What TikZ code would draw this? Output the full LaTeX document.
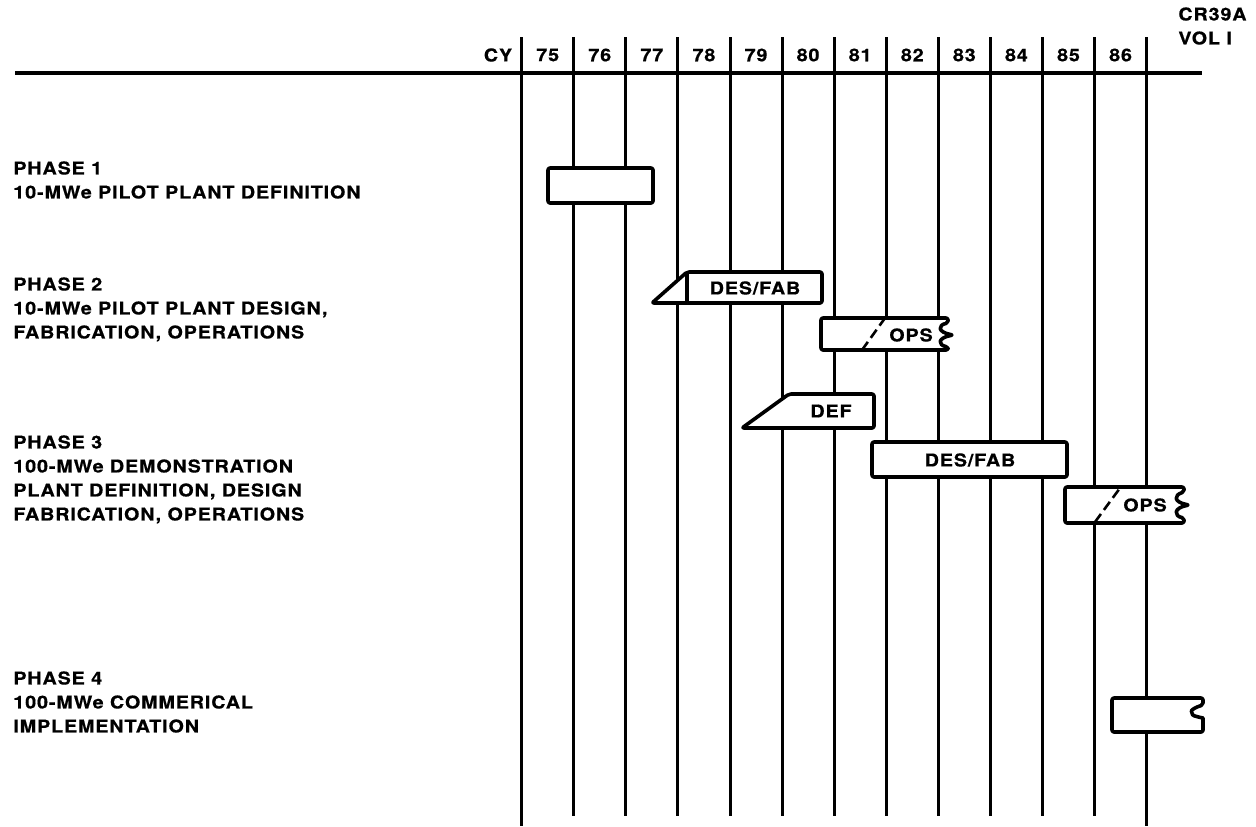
\documentclass[tikz,border=0pt]{standalone}
\usepackage{fontspec}
\setmainfont{TeX Gyre Heros}[LetterSpace=5,FakeStretch=1.12,FakeBold=0.6]
\usepackage{tikz}

\begin{document}
\begin{tikzpicture}[x=0.5pt,y=-0.5pt,font=\fontsize{8.8}{12}\selectfont\bfseries,
grid/.style={line width=1.5pt},
bar/.style={draw,fill=white,line width=1.8pt,line join=round,rounded corners=1pt},
lbl/.style={anchor=north west,align=left,inner sep=0pt},
slash/.style={line width=1.3pt,dash pattern=on 5pt off 2.5pt}]
\useasboundingbox (0,0) rectangle (1256,826);
\foreach \i in {1,...,11} \draw[grid] ({521.7+52.08*\i},37) -- ({521.7+52.08*\i},816);
\draw[grid] (521.7,37) -- (521.7,826);
\draw[grid] (1146.7,37) -- (1146.7,826);
\draw[line width=1.8pt] (15,73) -- (1202,73);
\node (cy) at (498,55) {CY};
\foreach \yr [count=\i from 0] in {75,...,86} \node (y\yr) at ({547.7+52.08*\i},55) {\yr};
\node[lbl] (cr) at (1178,7) {CR39A\\VOL I};
\node[lbl] (ph1) at (13,161) {PHASE 1\\10-MWe PILOT PLANT DEFINITION};
\node[lbl] (ph2) at (13,277) {PHASE 2\\10-MWe PILOT PLANT DESIGN,\\FABRICATION, OPERATIONS};
\node[lbl] (ph3) at (13,435) {PHASE 3\\100-MWe DEMONSTRATION\\PLANT DEFINITION, DESIGN\\FABRICATION, OPERATIONS};
\node[lbl] (ph4) at (13,671) {PHASE 4\\100-MWe COMMERICAL\\IMPLEMENTATION};
\draw[bar] (548,168) rectangle (653,203);
\draw[bar] (652,303) -- (687,272) -- (822,272) -- (822,303) -- cycle;
\draw[bar] (687,272) -- (687,303);
\node (df2) at (755,288) {DES/FAB};
\draw[bar] (821,318) -- (948,318) -- (948,323) .. controls (938,325) and (937,332) .. (953,335) .. controls (937,338) and (938,345) .. (948,347) -- (948,350) -- (821,350) -- cycle;
\draw[slash] (862,350) -- (885,318);
\node (ops2) at (911,335) {OPS};
\draw[bar] (742,428) -- (789,394) -- (874,394) -- (874,428) -- cycle;
\node (def3) at (831,411) {DEF};
\draw[bar] (872,442) rectangle (1067,477);
\node (df3) at (970,460) {DES/FAB};
\draw[bar] (1065,487) -- (1184,487) -- (1184,492) .. controls (1174,495) and (1173,502) .. (1189,505) .. controls (1173,508) and (1174,516) .. (1184,518) -- (1184,523) -- (1065,523) -- cycle;
\draw[slash] (1095,522) -- (1120,488);
\node (ops3) at (1145,505) {OPS};
\draw[bar] (1112,698) -- (1203,698) -- (1203,705) .. controls (1196,707) and (1191,710) .. (1192,713) .. controls (1193,716) and (1203,718) .. (1203,720) -- (1203,732) -- (1112,732) -- cycle;
\end{tikzpicture}
\end{document}
